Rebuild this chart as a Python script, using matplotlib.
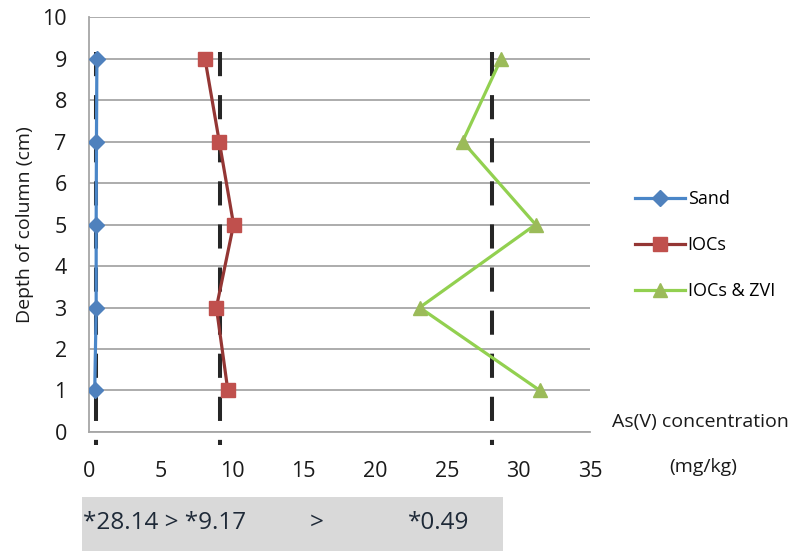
import matplotlib.pyplot as plt
from matplotlib.patches import Rectangle

plt.rcParams["font.family"] = ["Open Sans", "DejaVu Sans"]

# depth of sampling point along the column (cm)
depths = [1, 3, 5, 7, 9]

# As(V) concentration at each depth (mg/kg)
sand = [0.40, 0.50, 0.50, 0.52, 0.55]
iocs = [9.7, 8.9, 10.1, 9.1, 8.1]
iocs_zvi = [31.5, 23.1, 31.2, 26.1, 28.8]

# column averages drawn as dashed reference lines
averages = [0.49, 9.17, 28.14]
avg_labels = ["*28.14 > *9.17", ">", "*0.49"]

x_ticks = [0, 5, 10, 15, 20, 25, 30, 35]
y_ticks = list(range(0, 11))

fig = plt.figure(figsize=(7.99, 5.51), dpi=100)
ax = fig.add_axes([0.1114, 0.216, 0.627, 0.753])

for yv in y_ticks:
	ax.axhline(yv, color="#a6a6a6", linewidth=1.3, zorder=1)

# mean lines run a little past the axis like the hand-placed ones
for v in averages:
	ax.plot([v, v], [9.17, -0.31], color="#262626", linewidth=2.9,
		dashes=(6, 4.7), solid_capstyle="butt", dash_capstyle="butt",
		clip_on=False, zorder=3)

ax.plot(sand, depths, color="#4a86c8", linewidth=2.3, marker="D",
	markersize=8, markerfacecolor="#4f81bd", markeredgecolor="#4f81bd",
	label="Sand", zorder=4)
ax.plot(iocs, depths, color="#943634", linewidth=2.3, marker="s",
	markersize=10, markerfacecolor="#c0504d", markeredgecolor="#c0504d",
	label="IOCs", zorder=4)
ax.plot(iocs_zvi, depths, color="#92d050", linewidth=2.3, marker="^",
	markersize=10, markerfacecolor="#9bbb59", markeredgecolor="#9bbb59",
	label="IOCs & ZVI", zorder=4)

ax.set_xlim(0, 35)
ax.set_ylim(0, 10)
ax.set_xticks(x_ticks)
ax.set_yticks(y_ticks)
ax.tick_params(axis="both", length=0, labelsize=15.5, colors="#1a1a1a")
ax.tick_params(axis="x", pad=21)
ax.tick_params(axis="y", pad=16)
for side in ["top", "right"]:
	ax.spines[side].set_visible(False)
for side in ["left", "bottom"]:
	ax.spines[side].set_color("#a6a6a6")
	ax.spines[side].set_linewidth(1.3)

ax.set_ylabel("Depth of column (cm)", fontsize=14, color="#1a1a1a", labelpad=6)

fig.legend(loc="center left", bbox_to_anchor=(0.795, 0.555), frameon=False,
	fontsize=13, handlelength=2.75, handletextpad=0.15, labelspacing=1.55,
	borderpad=0, borderaxespad=0)

fig.text(0.766, 0.234, "As(V) concentration", fontsize=14, color="#1a1a1a",
	ha="left", va="center")
fig.text(0.880, 0.152, "(mg/kg)", fontsize=14, color="#1a1a1a",
	ha="center", va="center")

# shaded strip with the ranking of average concentrations
fig.patches.append(Rectangle((0.1026, 0.0), 0.527, 0.098,
	transform=fig.transFigure, facecolor="#d9d9d9", edgecolor="none"))
fig.text(0.104, 0.051, avg_labels[0], fontsize=17.5, color="#1f2a38", va="center")
fig.text(0.388, 0.051, avg_labels[1], fontsize=17.5, color="#1f2a38", va="center")
fig.text(0.511, 0.051, avg_labels[2], fontsize=17.5, color="#1f2a38", va="center")

fig.savefig("out.png", dpi=100)
